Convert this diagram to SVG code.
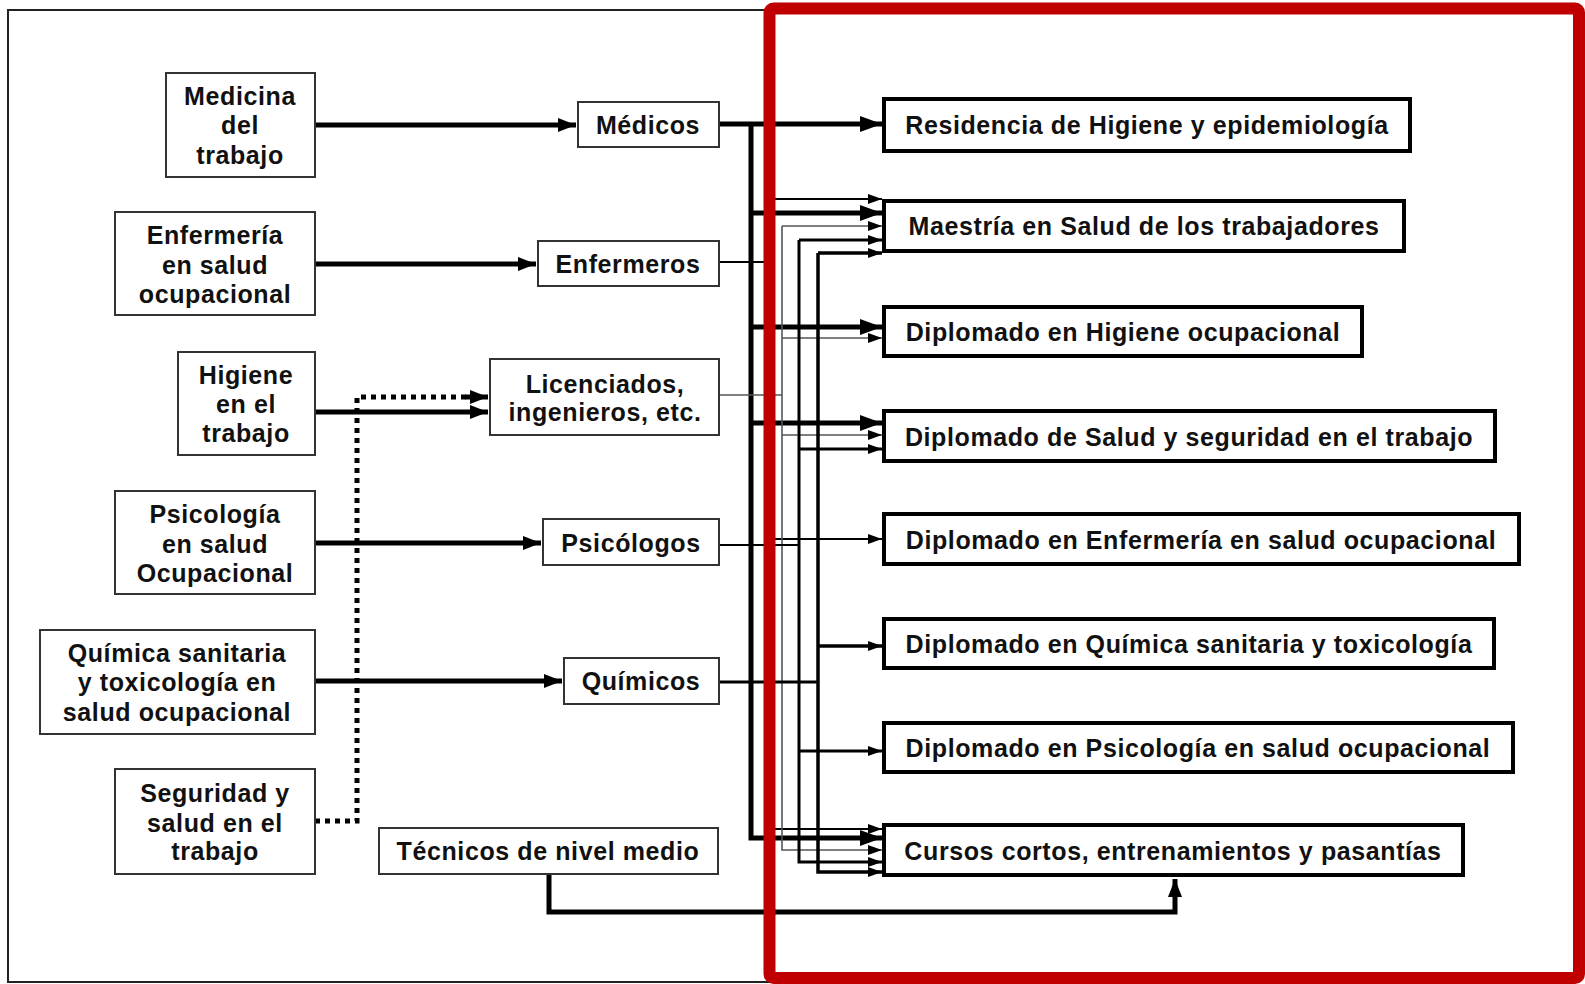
<svg xmlns="http://www.w3.org/2000/svg" width="1585" height="984" viewBox="0 0 1585 984">
<defs>
<style>
text{font-family:"Liberation Sans",Arial,sans-serif;font-weight:bold;font-size:25px;letter-spacing:0.6px;fill:#111;text-anchor:middle}
.lb{fill:#fff;stroke:#333;stroke-width:2}
.rb{fill:#fff;stroke:#000;stroke-width:4}
.c{fill:none;stroke:#000}
.w5{stroke-width:5}
.w3{stroke-width:3}
.w2{stroke-width:2}
.w15{stroke-width:1.6;stroke:#555}
</style>
<marker id="ab" markerUnits="userSpaceOnUse" markerWidth="24" markerHeight="18" refX="22" refY="9" orient="auto"><path d="M0,1 L22,9 L0,17 z" fill="#000"/></marker>
<marker id="am" markerUnits="userSpaceOnUse" markerWidth="20" markerHeight="16" refX="18" refY="8" orient="auto"><path d="M0,1 L18,8 L0,15 z" fill="#000"/></marker>
<marker id="as" markerUnits="userSpaceOnUse" markerWidth="16" markerHeight="12" refX="14" refY="6" orient="auto"><path d="M0,1 L14,6 L0,11 z" fill="#000"/></marker>
</defs>
<rect x="0" y="0" width="1585" height="984" fill="#fff"/>
<rect x="8" y="10" width="1570" height="972" fill="#fff" stroke="#222" stroke-width="2"/>

<g id="connectors">
<!-- left to middle -->
<line class="c w5" x1="315" y1="125" x2="576" y2="125" marker-end="url(#am)"/>
<line class="c w5" x1="315" y1="264" x2="536" y2="264" marker-end="url(#am)"/>
<line class="c w5" x1="315" y1="412" x2="488" y2="412" marker-end="url(#am)"/>
<polyline class="c" stroke-width="5" stroke-dasharray="5 5" points="315,821 357,821 357,397 470,397"/>
<line class="c w5" x1="465" y1="397" x2="488" y2="397" marker-end="url(#am)"/>
<line class="c w5" x1="315" y1="543" x2="541" y2="543" marker-end="url(#am)"/>
<line class="c w5" x1="315" y1="681" x2="562" y2="681" marker-end="url(#am)"/>
<!-- Medicos bus -->
<line class="c w5" x1="719" y1="124" x2="882" y2="124" marker-end="url(#ab)"/>
<polyline class="c w5" points="751,124 751,838 882,838" marker-end="url(#ab)"/>
<line class="c w5" x1="751" y1="213" x2="882" y2="213" marker-end="url(#ab)"/>
<line class="c w5" x1="751" y1="327" x2="882" y2="327" marker-end="url(#ab)"/>
<line class="c w5" x1="751" y1="423" x2="882" y2="423" marker-end="url(#ab)"/>
<!-- Enfermeros bus -->
<line class="c w2" x1="719" y1="262" x2="769" y2="262"/>
<polyline class="c w2" points="882,199 769,199 769,829 882,829" marker-end="url(#as)" marker-start="none"/>
<line class="c w2" x1="769" y1="199" x2="882" y2="199" marker-end="url(#as)"/>
<line class="c w2" x1="769" y1="539" x2="882" y2="539" marker-end="url(#as)"/>
<!-- Licenciados bus -->
<line class="c w15" x1="719" y1="395" x2="782" y2="395"/>
<polyline class="c w15" points="782,226 782,850 882,850" marker-end="url(#as)"/>
<line class="c w15" x1="782" y1="226" x2="882" y2="226" marker-end="url(#as)"/>
<line class="c w15" x1="782" y1="338" x2="882" y2="338" marker-end="url(#as)"/>
<line class="c w15" x1="782" y1="435" x2="882" y2="435" marker-end="url(#as)"/>
<!-- Psicologos bus -->
<line class="c w2" x1="719" y1="545" x2="799" y2="545"/>
<polyline class="c w3" points="799,240 799,862 882,862" marker-end="url(#as)"/>
<line class="c w3" x1="799" y1="240" x2="882" y2="240" marker-end="url(#as)"/>
<line class="c w3" x1="799" y1="449" x2="882" y2="449" marker-end="url(#as)"/>
<line class="c w3" x1="799" y1="751" x2="882" y2="751" marker-end="url(#as)"/>
<!-- Quimicos bus -->
<line class="c w3" x1="719" y1="682" x2="818" y2="682"/>
<polyline class="c" stroke-width="3.5" points="818,253 818,872 882,872" marker-end="url(#as)"/>
<line class="c" stroke-width="3.5" x1="818" y1="253" x2="882" y2="253" marker-end="url(#as)"/>
<line class="c" stroke-width="3.5" x1="818" y1="646" x2="882" y2="646" marker-end="url(#as)"/>
<!-- Tecnicos -->
<polyline class="c w5" points="549,874 549,912 1175,912 1175,879" marker-end="url(#am)"/>
</g>

<g id="n-medicina"><rect class="lb" x="166" y="73" width="149" height="104"/><text x="240" y="105">Medicina</text><text x="240" y="134">del</text><text x="240" y="164">trabajo</text></g>
<g id="n-enfermeria"><rect class="lb" x="115" y="212" width="200" height="103"/><text x="215" y="244">Enfermería</text><text x="215" y="274">en salud</text><text x="215" y="303">ocupacional</text></g>
<g id="n-higiene"><rect class="lb" x="178" y="352" width="137" height="103"/><text x="246" y="384">Higiene</text><text x="246" y="413">en el</text><text x="246" y="442">trabajo</text></g>
<g id="n-psicologia"><rect class="lb" x="115" y="491" width="200" height="103"/><text x="215" y="523">Psicología</text><text x="215" y="553">en salud</text><text x="215" y="582">Ocupacional</text></g>
<g id="n-quimica"><rect class="lb" x="40" y="630" width="275" height="104"/><text x="177" y="662">Química sanitaria</text><text x="177" y="691">y toxicología en</text><text x="177" y="721">salud ocupacional</text></g>
<g id="n-seguridad"><rect class="lb" x="115" y="769" width="200" height="105"/><text x="215" y="802">Seguridad y</text><text x="215" y="832">salud en el</text><text x="215" y="860">trabajo</text></g>

<g id="n-medicos"><rect class="lb" x="578" y="102" width="141" height="45"/><text x="648" y="134">Médicos</text></g>
<g id="n-enfermeros"><rect class="lb" x="538" y="241" width="181" height="45"/><text x="628" y="273">Enfermeros</text></g>
<g id="n-licenciados"><rect class="lb" x="490" y="359" width="229" height="76"/><text x="605" y="393">Licenciados,</text><text x="605" y="421">ingenieros, etc.</text></g>
<g id="n-psicologos"><rect class="lb" x="543" y="519" width="176" height="46"/><text x="631" y="552">Psicólogos</text></g>
<g id="n-quimicos"><rect class="lb" x="564" y="658" width="155" height="46"/><text x="641" y="690">Químicos</text></g>
<g id="n-tecnicos"><rect class="lb" x="379" y="828" width="339" height="46"/><text x="548" y="860">Técnicos de nivel medio</text></g>

<g id="n-residencia"><rect class="rb" x="884" y="99" width="526" height="52"/><text x="1147" y="134">Residencia de Higiene y epidemiología</text></g>
<g id="n-maestria"><rect class="rb" x="884" y="201" width="520" height="50"/><text x="1144" y="235">Maestría en Salud de los trabajadores</text></g>
<g id="n-dhigiene"><rect class="rb" x="884" y="307" width="478" height="49"/><text x="1123" y="341">Diplomado en Higiene ocupacional</text></g>
<g id="n-dsalud"><rect class="rb" x="884" y="411" width="611" height="50"/><text x="1189" y="446">Diplomado de Salud y seguridad en el trabajo</text></g>
<g id="n-denfermeria"><rect class="rb" x="884" y="514" width="635" height="50"/><text x="1201" y="549">Diplomado en Enfermería en salud ocupacional</text></g>
<g id="n-dquimica"><rect class="rb" x="884" y="619" width="610" height="49"/><text x="1189" y="653">Diplomado en Química sanitaria y toxicología</text></g>
<g id="n-dpsicologia"><rect class="rb" x="884" y="723" width="629" height="49"/><text x="1198" y="757">Diplomado en Psicología en salud ocupacional</text></g>
<g id="n-cursos"><rect class="rb" x="884" y="825" width="579" height="50"/><text x="1173" y="860">Cursos cortos, entrenamientos y pasantías</text></g>

<rect x="769.5" y="8.5" width="809.5" height="969.5" rx="4" fill="none" stroke="#c00000" stroke-width="12"/>
</svg>
